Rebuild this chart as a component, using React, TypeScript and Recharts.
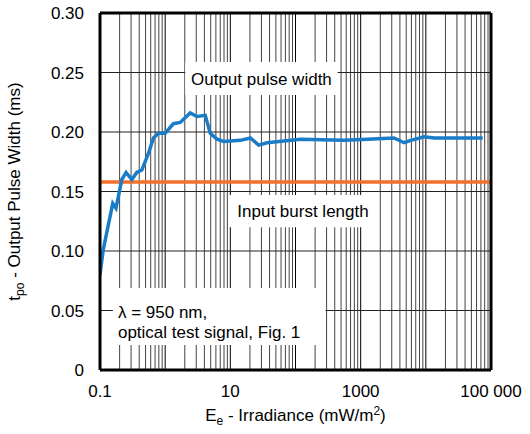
import { LineChart, Line, XAxis, YAxis, CartesianGrid, ReferenceLine, ReferenceArea } from 'recharts';

// irradiance (mW/m2) vs output pulse width (ms)
const irradiance = [
  0.1, 0.112, 0.157, 0.176, 0.216, 0.251, 0.308, 0.367, 0.439, 0.553, 0.661, 0.789, 1.0, 1.34, 1.7,
  2.42, 3.07, 4.12, 4.92, 6.24, 7.89, 14.3, 20.3, 27.2, 36.7, 119, 554, 1268, 3250, 4630, 5870, 9420,
  13400, 74500,
];
const pulseWidth = [
  0.08, 0.101, 0.14, 0.136, 0.16, 0.166, 0.16, 0.166, 0.168, 0.182, 0.195, 0.199, 0.199, 0.207, 0.208,
  0.216, 0.213, 0.214, 0.199, 0.194, 0.192, 0.193, 0.195, 0.189, 0.191, 0.194, 0.193, 0.194, 0.195,
  0.191, 0.193, 0.196, 0.195, 0.195,
];
const burstLength = 0.158;

const xTicks = [0.1, 10, 1000, 100000];
const yTicks = [0, 0.05, 0.1, 0.15, 0.2, 0.25, 0.3];
const decades = [0.1, 1, 10, 100, 1000, 10000];

const data = irradiance.map((x, i) => ({ x, y: pulseWidth[i] }));
const majorGrid = decades.slice(1);
const minorGrid = decades.flatMap((d) => [2, 3, 4, 5, 6, 7, 8, 9].map((k) => +(k * d).toPrecision(3)));

const FONT = '"Liberation Sans", Arial, sans-serif';

const gridGen = (vals: number[]) => (props: any) => {
  const { xAxis, offset } = props;
  const s = xAxis?.scale;
  return vals.map((v) => {
    if (typeof s === 'function') return s(v);
    if (s && typeof s.map === 'function') return s.map(v);
    const lo = Math.log10(0.1);
    const hi = Math.log10(100000);
    return offset.left + (offset.width * (Math.log10(v) - lo)) / (hi - lo);
  });
};

const YTitle = (props: any) => {
  const vb = props.viewBox || { x: 0, y: 13, width: 100, height: 357 };
  const cx = vb.x + 20;
  const cy = vb.y + vb.height / 2;
  return (
    <text x={cx} y={cy} transform={`rotate(-90 ${cx} ${cy})`} textAnchor="middle" fontSize={17} fontFamily={FONT} fill="#000">
      <tspan>t</tspan>
      <tspan dy={4} fontSize={12}>po</tspan>
      <tspan dy={-4}> - Output Pulse Width (ms)</tspan>
    </text>
  );
};

const XTitle = (props: any) => {
  const vb = props.viewBox || { x: 100, y: 370, width: 391, height: 64 };
  return (
    <text x={vb.x + vb.width / 2} y={vb.y + 51} textAnchor="middle" fontSize={17} fontFamily={FONT} fill="#000">
      <tspan>E</tspan>
      <tspan dy={4} fontSize={12}>e</tspan>
      <tspan dy={-4}> - Irradiance (mW/m</tspan>
      <tspan dy={-6} fontSize={12}>2</tspan>
      <tspan dy={6}>)</tspan>
    </text>
  );
};

const NoteLabel = (props: any) => {
  const vb = props.viewBox;
  if (!vb) return null;
  return (
    <text x={vb.x + 5} y={vb.y + 30} fontSize={17} fontFamily={FONT} fill="#000">
      <tspan x={vb.x + 5}>λ = 950 nm,</tspan>
      <tspan x={vb.x + 5} dy={20}>optical test signal, Fig. 1</tspan>
    </text>
  );
};

const App = () => {
  return (
    <div style={{ position: 'absolute', left: 0, top: 0, background: '#fff', fontFamily: FONT }}>
      <LineChart width={530} height={434} data={data} margin={{ top: 13, right: 39, bottom: 0, left: 0 }}>
        <CartesianGrid horizontal={false} stroke="#444" verticalCoordinatesGenerator={gridGen(minorGrid)} />
        <CartesianGrid horizontal={false} stroke="#000" verticalCoordinatesGenerator={gridGen(majorGrid)} />
        <CartesianGrid vertical={false} stroke="#222" />
        <XAxis
          dataKey="x"
          type="number"
          scale="log"
          domain={[0.1, 100000]}
          ticks={xTicks}
          interval={0}
          allowDataOverflow
          height={64}
          tickLine={false}
          tickMargin={9}
          axisLine={{ stroke: '#000', strokeWidth: 3 }}
          tick={{ fill: '#000', fontSize: 17, fontFamily: FONT }}
          tickFormatter={(v: number) => (v === 100000 ? '100 000' : String(v))}
          label={<XTitle />}
        />
        <YAxis
          type="number"
          domain={[0, 0.3]}
          ticks={yTicks}
          interval={0}
          width={100}
          tickLine={false}
          tickMargin={10}
          axisLine={{ stroke: '#000', strokeWidth: 3 }}
          tick={{ fill: '#000', fontSize: 17, fontFamily: FONT }}
          tickFormatter={(v: number) => (v === 0 ? '0' : v.toFixed(2))}
          label={<YTitle />}
        />
        <ReferenceArea x1={2.03} x2={443} y1={0.2311} y2={0.2588} fill="#fff" fillOpacity={1} stroke="none"
          label={{ value: 'Output pulse width', position: 'center', fill: '#000', fontSize: 17, fontFamily: FONT }} />
        <ReferenceArea x1={9.3} x2={1827} y1={0.12} y2={0.147} fill="#fff" fillOpacity={1} stroke="none"
          label={{ value: 'Input burst length', position: 'center', fill: '#000', fontSize: 17, fontFamily: FONT }} />
        <ReferenceArea x1={0.158} x2={289} y1={0.021} y2={0.0689} fill="#fff" fillOpacity={1} stroke="none"
          label={<NoteLabel />} />
        <ReferenceLine y={burstLength} stroke="#f2702a" strokeWidth={3.5} />
        <ReferenceLine y={0.3} stroke="#000" strokeWidth={3} />
        <ReferenceLine x={100000} stroke="#000" strokeWidth={3} />
        <Line type="linear" dataKey="y" stroke="#1a7cc7" strokeWidth={3.5} dot={false} isAnimationActive={false} />
      </LineChart>
    </div>
  );
};

export default App;
